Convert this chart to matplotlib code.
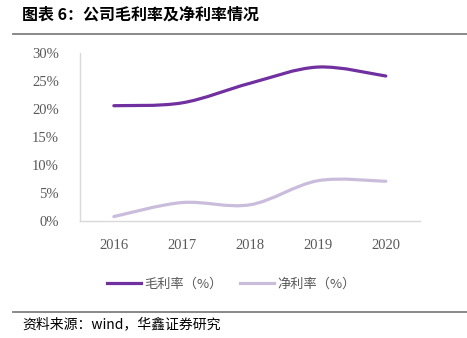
import numpy as np
import matplotlib
matplotlib.use("Agg")
import matplotlib.pyplot as plt
from matplotlib.path import Path
from matplotlib.patches import PathPatch
from matplotlib.lines import Line2D
from matplotlib.ticker import FuncFormatter

plt.rcParams['font.family'] = ['Noto Sans CJK SC', 'DejaVu Sans']

years = ["2016", "2017", "2018", "2019", "2020"]
gross_margin = [20.6, 21.1, 24.6, 27.5, 25.9]
net_margin = [0.8, 3.3, 2.9, 7.2, 7.1]

title = "图表 6：公司毛利率及净利率情况"
source = "资料来源：wind，华鑫证券研究"
gross_label = "毛利率（%）"
net_label = "净利率（%）"

gross_color = "#7030A0"
net_color = "#CABDDC"
grey = "#595959"


def smooth_path(xs, ys):
    # Excel-style smoothed line: cubic Bezier segments through the data points
    pts = np.column_stack([xs, ys]).astype(float)
    n = len(pts)
    verts = [pts[0]]
    codes = [Path.MOVETO]
    for i in range(n - 1):
        p0 = pts[max(i - 1, 0)]
        p1 = pts[i]
        p2 = pts[i + 1]
        p3 = pts[min(i + 2, n - 1)]
        c1 = p1 + (p2 - p0) / 6.0
        c2 = p2 - (p3 - p1) / 6.0
        verts += [c1, c2, p2]
        codes += [Path.CURVE4] * 3
    return Path(verts, codes)


fig = plt.figure(figsize=(4.67, 3.38), dpi=100)
ax = fig.add_axes([0.171, 0.346, 0.728, 0.497])

x = np.arange(len(years))
for vals, col in [(gross_margin, gross_color), (net_margin, net_color)]:
    patch = PathPatch(smooth_path(x, vals), facecolor="none", edgecolor=col,
                      lw=2.3, capstyle="round", joinstyle="round")
    ax.add_patch(patch)

ax.set_xlim(-0.5, len(years) - 0.5)
ax.set_ylim(0, 30)
ax.set_yticks(np.arange(0, 31, 5))
ax.yaxis.set_major_formatter(FuncFormatter(lambda v, p: f"{v:.0f}%"))
ax.set_xticks(x)
ax.set_xticklabels(years)
for lab in ax.get_xticklabels() + ax.get_yticklabels():
    lab.set_fontfamily("Liberation Serif")
    lab.set_fontsize(10.5)
    lab.set_color(grey)
ax.tick_params(axis="both", length=0)
ax.tick_params(axis="y", pad=15)
ax.tick_params(axis="x", pad=13)
for s in ["top", "right"]:
    ax.spines[s].set_visible(False)
for s in ["left", "bottom"]:
    ax.spines[s].set_color("#D9D9D9")
    ax.spines[s].set_linewidth(1.0)

handles = [Line2D([], [], color=gross_color, lw=2.3),
           Line2D([], [], color=net_color, lw=2.3)]
leg = fig.legend(handles, [gross_label, net_label], loc="center left",
                 bbox_to_anchor=(95 / 467, 1 - 284 / 338), ncol=2, frameon=False,
                 handlelength=2.6, handletextpad=0.25, columnspacing=1.3,
                 prop={"family": ["Noto Sans CJK SC", "DejaVu Sans"], "size": 9.5})
for t in leg.get_texts():
    t.set_color(grey)

fig.text(22 / 467, 1 - 15 / 338, title, fontsize=11.5, fontweight="bold",
         va="center", ha="left", color="black")
fig.add_artist(Line2D([13 / 467, 1], [1 - 34 / 338] * 2, color="#7F7F7F", lw=1.3))
fig.add_artist(Line2D([13 / 467, 1], [1 - 311.5 / 338] * 2, color="#7F7F7F", lw=1.3))
fig.text(22 / 467, 1 - 324 / 338, source, fontsize=10, va="center", ha="left",
         color="black")

fig.savefig("out.png", dpi=100)
